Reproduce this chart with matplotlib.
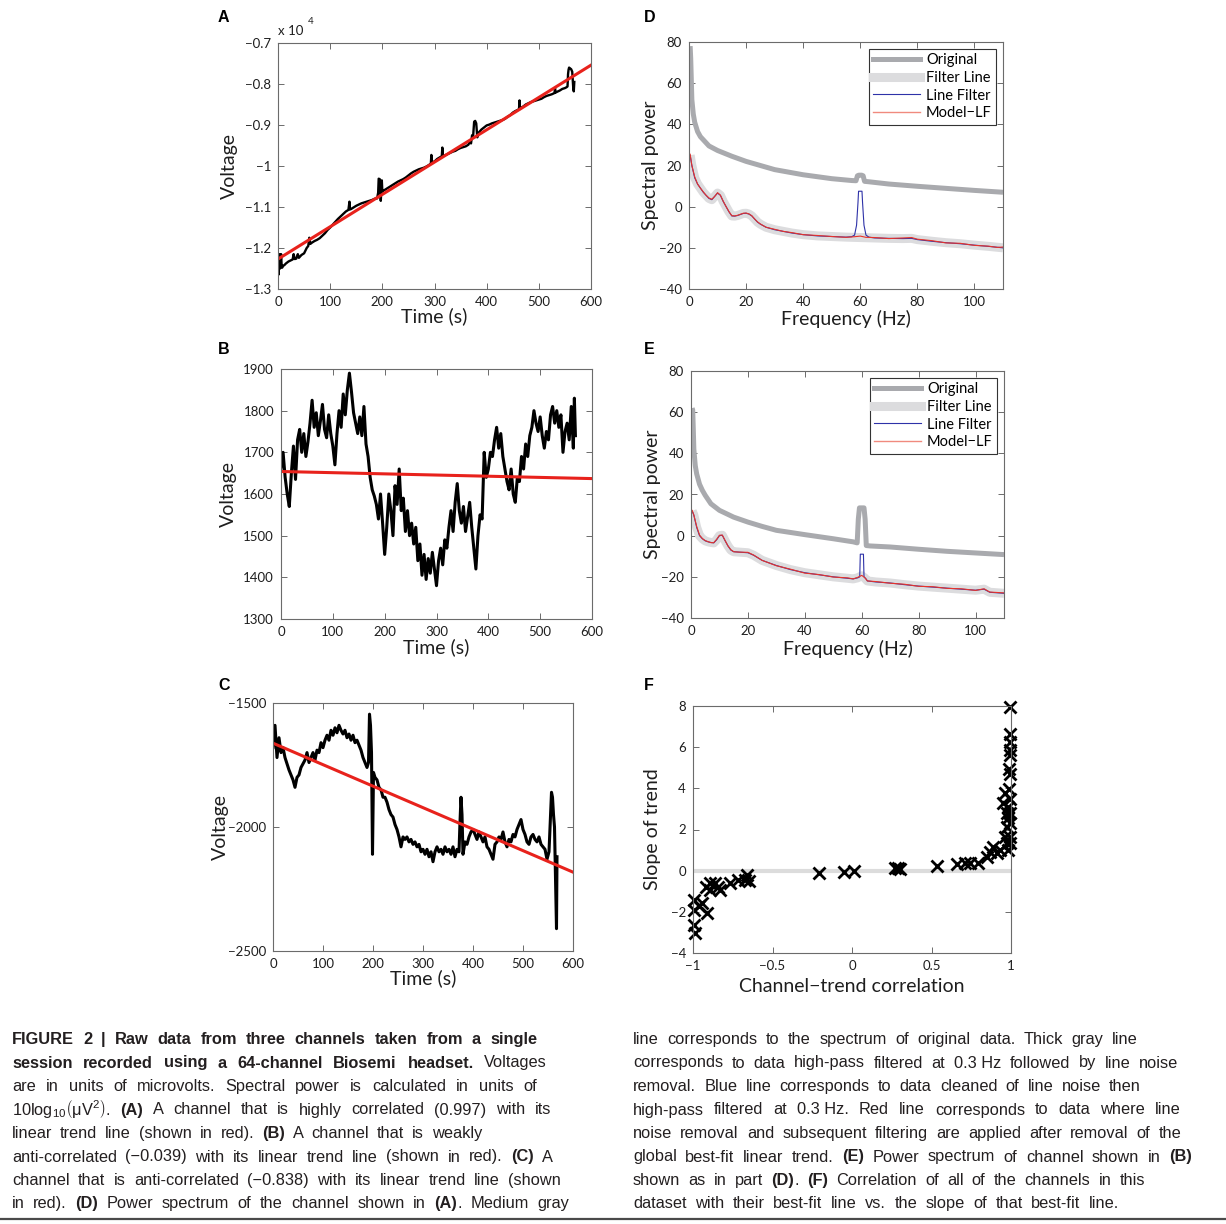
import matplotlib
matplotlib.use("Agg")
import matplotlib.pyplot as plt
from matplotlib.lines import Line2D

W, H = 1226, 1224
plt.rcParams['font.family'] = ['Lato', 'DejaVu Sans']
plt.rcParams['mathtext.fontset'] = 'custom'
plt.rcParams['mathtext.rm'] = 'Liberation Sans'
plt.rcParams['mathtext.it'] = 'Liberation Sans:italic'
plt.rcParams['mathtext.bf'] = 'Liberation Sans:bold'

# ---------------- data ----------------
# A: highly correlated channel (raw microvolts)
A_t = [0, 1, 2, 3, 4, 5, 6, 7, 8, 10, 12, 15, 18, 20, 25, 28, 30, 32, 35, 38, 40, 45, 50, 55, 58, 60, 62,
       65, 70, 75, 80, 85, 90, 95, 100, 105, 110, 115, 120, 125, 130, 135, 137, 138, 140, 145, 150, 155,
       160, 165, 170, 175, 180, 185, 190, 192, 193, 195, 197, 199, 200, 202, 205, 210, 215, 220, 225, 230,
       235, 240, 245, 250, 255, 260, 265, 270, 275, 280, 285, 290, 293, 294, 295, 297, 300, 305, 310, 314,
       315, 316, 320, 325, 330, 335, 340, 345, 350, 355, 360, 365, 368, 370, 372, 374, 376, 378, 380, 382,
       385, 390, 395, 400, 405, 410, 415, 420, 425, 430, 435, 440, 445, 450, 455, 460, 462, 463, 464, 465,
       470, 475, 480, 485, 490, 495, 500, 505, 510, 515, 520, 525, 530, 531, 532, 535, 540, 545, 550, 553,
       555, 556, 557, 558, 560, 562, 564, 566, 567, 568]
A_v = [-12550, -12650, -12450, -12150, -12500, -12400, -12150, -12450, -12480, -12430, -12420, -12380,
       -12350, -12330, -12300, -12280, -12150, -12270, -12260, -12150, -12240, -12170, -12130, -12000,
       -11950, -11750, -11900, -11870, -11830, -11800, -11760, -11700, -11640, -11560, -11500, -11430,
       -11360, -11290, -11230, -11170, -11110, -11070, -10870, -11060, -11050, -11010, -10970, -10940,
       -10910, -10890, -10870, -10850, -10830, -10800, -10790, -10650, -10310, -10320, -10850, -10350,
       -10620, -10600, -10580, -10540, -10500, -10460, -10420, -10380, -10350, -10320, -10280, -10230,
       -10180, -10140, -10110, -10080, -10060, -10040, -10010, -9970, -9940, -9730, -9930, -9900, -9890,
       -9830, -9790, -9760, -9550, -9760, -9740, -9710, -9680, -9650, -9630, -9590, -9560, -9540, -9520,
       -9480, -9400, -9450, -9250, -9280, -8920, -8900, -8960, -9300, -9180, -9110, -9060, -9010, -8990,
       -8960, -8940, -8920, -8900, -8880, -8850, -8800, -8760, -8700, -8660, -8630, -8610, -8400, -8610,
       -8590, -8550, -8500, -8470, -8440, -8420, -8400, -8380, -8360, -8320, -8290, -8270, -8250, -8220,
       -8100, -8210, -8190, -8160, -8120, -8100, -8080, -8060, -7760, -7650, -7600, -7620, -7640, -7700,
       -8100, -8180, -7950]
A_trend_t = [0, 600]
A_trend_v = [-12270, -7540]

# B: weakly anti-correlated channel
B_t = [0, 4, 8, 12, 16, 20, 24, 28, 32, 36, 40, 44, 48, 52, 56, 60, 64, 68, 72, 76, 80, 84, 88, 92, 96,
       100, 104, 108, 112, 116, 120, 124, 128, 132, 136, 140, 144, 148, 152, 156, 160, 164, 168, 172, 176,
       180, 184, 188, 192, 196, 200, 204, 208, 212, 216, 220, 224, 228, 232, 236, 240, 244, 248, 252, 256,
       260, 264, 268, 272, 276, 280, 284, 288, 292, 296, 300, 304, 308, 312, 316, 320, 324, 328, 332, 336,
       340, 344, 348, 352, 356, 360, 364, 368, 372, 376, 380, 384, 388, 392, 396, 400, 404, 408, 412, 416,
       420, 424, 428, 432, 436, 440, 444, 448, 452, 456, 460, 464, 468, 472, 476, 480, 484, 488, 492, 496,
       500, 504, 508, 512, 516, 520, 524, 528, 532, 536, 540, 544, 548, 552, 556, 560, 564, 566, 568]
B_v = [1660, 1700, 1640, 1600, 1570, 1650, 1715, 1635, 1730, 1755, 1700, 1745, 1690, 1725, 1770, 1825,
       1760, 1795, 1740, 1775, 1815, 1755, 1735, 1790, 1745, 1715, 1670, 1745, 1800, 1760, 1840, 1790,
       1850, 1890, 1845, 1795, 1770, 1745, 1785, 1740, 1810, 1720, 1690, 1640, 1610, 1595, 1575, 1540,
       1600, 1530, 1455, 1520, 1600, 1560, 1500, 1620, 1575, 1660, 1560, 1590, 1510, 1560, 1500, 1530,
       1480, 1520, 1440, 1480, 1405, 1455, 1395, 1445, 1410, 1460, 1420, 1380, 1440, 1470, 1430, 1490,
       1470, 1520, 1560, 1510, 1580, 1625, 1560, 1530, 1570, 1510, 1545, 1580, 1520, 1470, 1420, 1500,
       1550, 1540, 1700, 1640, 1660, 1700, 1690, 1730, 1760, 1710, 1745, 1690, 1660, 1630, 1610, 1660,
       1600, 1580, 1640, 1630, 1690, 1660, 1720, 1690, 1740, 1760, 1800, 1770, 1750, 1785, 1740, 1710,
       1750, 1730, 1790, 1810, 1770, 1800, 1760, 1790, 1700, 1750, 1770, 1730, 1810, 1710, 1830, 1740]
B_trend_t = [0, 600]
B_trend_v = [1654, 1637]

# C: anti-correlated channel
C_t = [0, 4, 8, 12, 16, 20, 24, 28, 32, 36, 40, 44, 48, 52, 56, 60, 64, 68, 72, 76, 80, 84, 88, 92, 96,
       100, 104, 108, 112, 116, 120, 124, 128, 132, 136, 140, 144, 148, 152, 156, 160, 164, 168, 172, 176,
       180, 184, 188, 191, 193, 195, 197, 199, 201, 204, 208, 212, 216, 220, 224, 228, 232, 236, 240, 244,
       248, 252, 256, 260, 264, 268, 272, 276, 280, 284, 288, 292, 296, 300, 304, 308, 312, 316, 320, 324,
       328, 332, 336, 340, 344, 348, 352, 356, 360, 364, 368, 372, 374, 376, 378, 380, 384, 388, 392, 396,
       400, 404, 408, 412, 416, 420, 424, 428, 432, 436, 440, 444, 448, 452, 456, 460, 464, 468, 472, 476,
       480, 484, 488, 492, 496, 500, 504, 508, 512, 516, 520, 524, 528, 532, 536, 540, 544, 548, 552, 555,
       557, 559, 561, 563, 565, 567, 568]
C_v = [-1680, -1590, -1720, -1640, -1700, -1680, -1720, -1745, -1770, -1790, -1810, -1840, -1800, -1790,
       -1760, -1745, -1730, -1700, -1740, -1720, -1700, -1730, -1690, -1700, -1660, -1680, -1650, -1630,
       -1650, -1610, -1630, -1600, -1620, -1590, -1610, -1625, -1610, -1640, -1625, -1650, -1630, -1660,
       -1650, -1670, -1690, -1720, -1740, -1760, -1740, -1545, -1590, -1700, -2110, -1780, -1800, -1810,
       -1840, -1850, -1880, -1880, -1900, -1930, -1950, -1960, -1990, -2010, -2040, -2080, -2040, -2050,
       -2040, -2060, -2050, -2070, -2060, -2080, -2070, -2100, -2090, -2110, -2090, -2120, -2100, -2140,
       -2100, -2080, -2100, -2090, -2110, -2080, -2100, -2090, -2110, -2080, -2120, -2090, -2100, -1980,
       -1880, -1950, -2110, -2060, -2070, -2040, -2020, -2010, -2030, -2050, -2020, -2040, -2060, -2040,
       -2080, -2090, -2110, -2130, -2070, -2060, -2040, -2050, -2020, -2060, -2080, -2050, -2060, -2030,
       -2040, -2010, -1990, -1970, -2010, -2030, -2060, -2070, -2040, -2030, -2050, -2060, -2040, -2070,
       -2080, -2090, -2130, -2100, -1950, -1860, -1880, -1950, -2000, -2200, -2410, -2120]
C_trend_t = [0, 600]
C_trend_v = [-1662, -2182]

# D: spectra of channel A
D_orig_f = [0.4, 0.6, 0.8, 1, 1.5, 2, 3, 4, 5, 7, 10, 15, 20, 25, 30, 40, 50, 57, 58.5, 59, 59.5, 60.5,
            61, 61.5, 63, 70, 80, 90, 100, 110]
D_orig_v = [78, 72, 62, 52, 45, 41, 36.5, 34, 32.5, 29.5, 27.3, 24.5, 22, 20, 18, 15.5, 13.6, 12.7,
            12.6, 15, 15.3, 15.3, 15, 12.3, 12.1, 11, 9.9, 8.9, 7.9, 7]
D_filt_f = [0.4, 1, 2, 3, 4, 5, 6, 7, 8, 9, 10, 11, 12, 13, 14, 15, 16, 17, 18, 19, 20, 21, 22, 23, 24,
            25, 27, 30, 33, 36, 40, 45, 50, 55, 60, 65, 70, 75, 78, 80, 85, 90, 95, 100, 105, 110]
D_filt_v = [25, 20, 14, 11, 9, 7, 5.5, 4, 3.4, 5, 6.6, 5.5, 2.5, 0, -2.5, -4.5, -4.6, -4.3, -3.8, -3.3,
            -3.2, -3.6, -4.5, -6, -7.5, -8.5, -10, -11.2, -12, -12.8, -13.6, -14.2, -14.5, -14.8, -15,
            -15.2, -15.4, -15.5, -15.4, -16, -16.8, -17.5, -18, -18.7, -19.3, -20]
D_model_f = [0.4, 1, 2, 3, 4, 5, 6, 7, 8, 9, 10, 11, 12, 13, 14, 15, 16, 17, 18, 19, 20, 21, 22, 23, 24,
             25, 27, 30, 33, 36, 40, 45, 50, 55, 58, 60, 62, 65, 70, 75, 78, 80, 85, 90, 95, 100, 105, 108, 110]
D_model_v = [25.5, 20, 14.5, 11, 9, 7.2, 5.5, 4.2, 3.6, 5, 6.8, 5.6, 2.6, 0, -2.4, -4.4, -4.5, -4.2,
             -3.7, -3.2, -3.1, -3.5, -4.4, -6, -7.4, -8.4, -10, -11, -12, -12.6, -13.6, -14, -14.5,
             -14.9, -14.6, -14.3, -14.9, -15, -15.5, -15.2, -15, -15.8, -16.5, -17.6, -17.8, -18.8,
             -19.2, -19.8, -19.6]
D_peak_f = [57, 58, 58.7, 59.2, 59.4, 60.6, 60.8, 61.3, 62, 63]
D_peak_v = [-14.6, -13.8, -9, 2, 7.5, 7.5, 2, -9, -13.8, -14.8]

# E: spectra of channel B
E_orig_f = [0.4, 0.6, 0.8, 1, 1.5, 2, 3, 4, 5, 7, 10, 15, 20, 25, 30, 40, 50, 57, 58.4, 58.8, 59.2,
            60.8, 61.2, 61.6, 63, 70, 80, 90, 100, 110]
E_orig_v = [62, 61, 52, 42, 34, 30, 25, 22, 19.6, 15.5, 12.3, 9, 6.6, 4.5, 2.6, 0.5, -1.5, -3, -3.5, 8,
            13.5, 13.5, 8, -4.8, -5, -5.5, -6.6, -7.6, -8.4, -9.2]
E_filt_f = [0.4, 1, 2, 3, 4, 5, 6, 7, 8, 9, 10, 11, 12, 13, 14, 15, 17, 20, 22, 25, 30, 35, 40, 45, 50,
            55, 57, 58.5, 60, 61, 62, 65, 70, 75, 80, 85, 90, 95, 100, 103, 105, 110]
E_filt_v = [12, 10, 4, 0, -1.5, -2.5, -3, -3.3, -3.5, -2, 0, 0.2, -2.5, -5, -7, -7.8, -8, -8.3, -9.5,
            -12, -14.5, -16.5, -18, -19, -20, -20.7, -21, -20.5, -19.5, -20.5, -22, -22.5, -23, -23.8,
            -24.5, -25, -25.5, -26, -26.5, -26, -27.5, -28]
E_model_f = [0.4, 1, 2, 3, 4, 5, 6, 7, 8, 9, 10, 11, 12, 13, 14, 15, 17, 20, 22, 25, 30, 35, 40, 45,
             50, 55, 57, 58.5, 60, 61, 62, 65, 70, 75, 80, 85, 90, 95, 100, 103, 105, 110]
E_model_v = [12.3, 10, 4.5, 0.3, -1.4, -2.4, -2.9, -3.4, -3.4, -1.8, 0.2, 0.3, -2.4, -5, -6.8, -7.8,
             -8, -8.1, -9.4, -12, -14.6, -16.3, -18.2, -18.9, -20.1, -20.5, -21, -20.3, -19.3, -20.3,
             -22, -22.3, -23.1, -23.6, -24.6, -24.8, -25.6, -25.8, -26.6, -25.8, -27.4, -27.8]
E_peak_f = [58.6, 59.3, 59.5, 60.6, 60.8, 61.4]
E_peak_v = [-20.5, -20, -9, -9, -20, -20.8]

# F: correlation vs slope, all channels
F_corr = [-0.985, -0.996, -0.996, -0.996, -0.964, -0.943, -0.912, -0.92, -0.89, -0.89, -0.86, -0.84,
          -0.83, -0.765, -0.72, -0.67, -0.66, -0.65, -0.206, -0.053, 0.01, 0.271, 0.292, 0.30, 0.533,
          0.66, 0.711, 0.742, 0.795, 0.847, 0.868, 0.889, 0.91, 0.93, 0.95, 0.96, 0.973, 0.983, 0.994,
          0.994, 0.983, 0.973, 0.962, 0.994, 0.994, 0.994, 0.994, 0.994, 0.99, 0.994, 0.99, 0.994,
          0.983, 0.994, 0.994, 0.973]
F_slope = [-3.03, -2.63, -1.9, -1.42, -1.74, -1.58, -2.06, -0.77, -0.6, -0.93, -0.6, -0.77, -0.93,
           -0.6, -0.44, -0.44, -0.19, -0.52, -0.11, -0.06, -0.03, 0.12, 0.12, 0.08, 0.21, 0.33, 0.36,
           0.39, 0.39, 0.68, 0.92, 1.17, 0.84, 1.0, 3.27, 3.75, 2.14, 2.54, 1.65, 1.33, 1.0, 1.33, 1.65,
           7.95, 6.66, 6.26, 5.85, 5.6, 4.96, 4.72, 3.99, 3.5, 3.1, 2.78, 2.3, 2.78]

time_ticks = [0, 100, 200, 300, 400, 500, 600]
time_ticklabels = ['0', '100', '200', '300', '400', '500', '600']
A_yticks = [-1.3, -1.2, -1.1, -1.0, -0.9, -0.8, -0.7]
A_yticklabels = ['\u22121.3', '\u22121.2', '\u22121.1', '\u22121', '\u22120.9', '\u22120.8', '\u22120.7']
B_yticks = [1300, 1400, 1500, 1600, 1700, 1800, 1900]
C_yticks = [-2500, -2000, -1500]
C_yticklabels = ['\u22122500', '\u22122000', '\u22121500']
freq_ticks = [0, 20, 40, 60, 80, 100]
spec_yticks = [-40, -20, 0, 20, 40, 60, 80]
spec_yticklabels = ['\u221240', '\u221220', '0', '20', '40', '60', '80']
F_xticks = [-1, -0.5, 0, 0.5, 1]
F_xticklabels = ['\u22121', '\u22120.5', '0', '0.5', '1']
F_yticks = [-4, -2, 0, 2, 4, 6, 8]
F_yticklabels = ['\u22124', '\u22122', '0', '2', '4', '6', '8']

legend_labels = ['Original', 'Filter Line', 'Line Filter', 'Model\u2212LF']

caption_left = [
    ("**FIGURE 2 | Raw data from three channels taken from a single**", 537),
    ("**session recorded using a 64-channel Biosemi headset.** Voltages", 547),
    ("are in units of microvolts. Spectral power is calculated in units of", 537),
    ("$\\mathregular{10log}_{10}\\left(\\mathregular{\\mu}\\mathregular{V}^{2}\\right)$. **(A)** A channel that is highly correlated (0.997) with its", 551),
    ("linear trend line (shown in red). **(B)** A channel that is weakly", 482),
    ("anti-correlated (\u22120.039) with its linear trend line (shown in red). **(C)** A", 553),
    ("channel that is anti-correlated (\u22120.838) with its linear trend line (shown", 561),
    ("in red). **(D)** Power spectrum of the channel shown in **(A)**. Medium gray", 569),
]
caption_right = [
    ("line corresponds to the spectrum of original data. Thick gray line", 1138),
    ("corresponds to data high-pass filtered at 0.3\u00a0Hz followed by line noise", 1178),
    ("removal. Blue line corresponds to data cleaned of line noise then", 1141),
    ("high-pass filtered at 0.3\u00a0Hz. Red line corresponds to data where line", 1181),
    ("noise removal and subsequent filtering are applied after removal of the", 1181),
    ("global best-fit linear trend. **(E)** Power spectrum of channel shown in **(B)**", 1192),
    ("shown as in part **(D)**. **(F)** Correlation of all of the channels in this", 1145),
    ("dataset with their best-fit line vs. the slope of that best-fit line.", 1119),
]

# ---------------- styling ----------------
TRACE = 'black'
TREND = '#e8221c'
ORIG = '#a9aaae'
FILT = '#dcdcde'
BLUE = '#2e32a8'
RED = '#e8332a'
SPINE = '#6b6b6b'
TXT = '#1e1e1e'

fig = plt.figure(figsize=(W / 100, H / 100), dpi=100)


def make_ax(l, r, t, b):
    ax = fig.add_axes([l / W, 1 - b / H, (r - l) / W, (b - t) / H])
    ax.tick_params(direction='in', top=True, right=True, length=4, width=0.7,
                   color=SPINE, labelcolor=TXT, labelsize=9.5, pad=5)
    for s in ax.spines.values():
        s.set_color(SPINE)
        s.set_linewidth(0.8)
    return ax


def panel_letter(x, y, s):
    fig.text(x / W, 1 - y / H, s, family='Liberation Sans', weight='bold', fontsize=11.5,
             ha='center', va='center', color='black')


# A
axA = make_ax(278, 591, 43, 289)
axA.plot(A_t, [v / 1e4 for v in A_v], color=TRACE, lw=1.7)
axA.plot(A_trend_t, [v / 1e4 for v in A_trend_v], color=TREND, lw=2.2)
axA.set_xlim(0, 600)
axA.set_ylim(-1.3, -0.7)
axA.set_xticks(time_ticks, time_ticklabels)
axA.set_yticks(A_yticks, A_yticklabels)
axA.text(0.0, 1.025, 'x 10', transform=axA.transAxes, fontsize=9.5, color=TXT, ha='left', va='bottom')
axA.text(0.095, 1.07, '4', transform=axA.transAxes, fontsize=7, color=TXT, ha='left', va='bottom')

# B
axB = make_ax(281, 592, 369, 619)
axB.plot(B_t, B_v, color=TRACE, lw=2.2)
axB.plot(B_trend_t, B_trend_v, color=TREND, lw=2.2)
axB.set_xlim(0, 600)
axB.set_ylim(1300, 1900)
axB.set_xticks(time_ticks, time_ticklabels)
axB.set_yticks(B_yticks, [str(v) for v in B_yticks])

# C
axC = make_ax(273, 573, 703, 951)
axC.plot(C_t, C_v, color=TRACE, lw=2.2)
axC.plot(C_trend_t, C_trend_v, color=TREND, lw=2.2)
axC.set_xlim(0, 600)
axC.set_ylim(-2500, -1500)
axC.set_xticks(time_ticks, time_ticklabels)
axC.set_yticks(C_yticks, C_yticklabels)

for ax, lx in [(axA, -0.128), (axB, -0.141), (axC, -0.147)]:
    ax.set_ylabel('Voltage', fontsize=14, color=TXT)
    ax.yaxis.set_label_coords(lx, 0.5)
    ax.set_xlabel('Time (s)', fontsize=14, color=TXT)
    ax.xaxis.set_label_coords(0.5, -0.075)


# D and E
def spectrum(ax, of, ov, ff, fv, mf, mv, pf, pv):
    ax.plot(of, ov, color=ORIG, lw=3.6, solid_capstyle='butt')
    ax.plot(ff, fv, color=FILT, lw=6.5, solid_capstyle='butt')
    # blue line = filtered curve with the 60 Hz peak kept
    bf = [f for f in ff if f < pf[0]] + pf + [f for f in ff if f > pf[-1]]
    bv = [v for f, v in zip(ff, fv) if f < pf[0]] + pv + [v for f, v in zip(ff, fv) if f > pf[-1]]
    ax.plot(bf, bv, color=BLUE, lw=0.8)
    ax.plot(mf, mv, color=RED, lw=0.8)
    ax.set_xlim(0, 110)
    ax.set_ylim(-40, 80)
    ax.set_xticks(freq_ticks, [str(v) for v in freq_ticks])
    ax.set_yticks(spec_yticks, spec_yticklabels)
    ax.set_ylabel('Spectral power', fontsize=14, color=TXT)
    ax.yaxis.set_label_coords(-0.096, 0.5)
    ax.set_xlabel('Frequency (Hz)', fontsize=14, color=TXT)
    handles = [Line2D([], [], color=ORIG, lw=3.6), Line2D([], [], color=FILT, lw=6.5),
               Line2D([], [], color=BLUE, lw=0.8), Line2D([], [], color='#f08a7e', lw=1.0)]
    leg = ax.legend(handles, legend_labels, loc='upper right', bbox_to_anchor=(0.978, 0.972),
                    fontsize=10.5, frameon=True, fancybox=False, framealpha=1, borderpad=0.3,
                    labelspacing=0.25, handlelength=3.2, handletextpad=0.4, borderaxespad=0)
    leg.get_frame().set_edgecolor('#333333')
    leg.get_frame().set_linewidth(0.8)


axD = make_ax(689, 1003, 42, 289)
spectrum(axD, D_orig_f, D_orig_v, D_filt_f, D_filt_v, D_model_f, D_model_v, D_peak_f, D_peak_v)
axD.xaxis.set_label_coords(0.5, -0.085)

axE = make_ax(691, 1004, 371, 618)
spectrum(axE, E_orig_f, E_orig_v, E_filt_f, E_filt_v, E_model_f, E_model_v, E_peak_f, E_peak_v)
axE.xaxis.set_label_coords(0.5, -0.089)

# F
axF = make_ax(693, 1011, 706, 953)
axF.plot([-1, 1], [0, 0], color='#dcdcdc', lw=3)
axF.plot(F_corr, F_slope, 'x', color='black', ms=9, mew=2.0, clip_on=False)
axF.set_xlim(-1, 1)
axF.set_ylim(-4, 8)
axF.set_xticks(F_xticks, F_xticklabels)
axF.set_yticks(F_yticks, F_yticklabels)
axF.set_ylabel('Slope of trend', fontsize=14, color=TXT)
axF.yaxis.set_label_coords(-0.101, 0.5)
axF.set_xlabel('Channel\u2212trend correlation', fontsize=14, color=TXT)
axF.xaxis.set_label_coords(0.5, -0.10)

panel_letter(223, 17, 'A')
panel_letter(650, 17, 'D')
panel_letter(224, 350, 'B')
panel_letter(649, 350, 'E')
panel_letter(224, 685, 'C')
panel_letter(649, 685, 'F')

# ---------------- caption ----------------
CAP_FS = 11.8
renderer = fig.canvas.get_renderer()


def caption_line(line, x0, x_end, y):
    bold = False
    rows = []
    for tok in line.split(' '):
        parts = tok.split('**')
        row = []
        for i, p in enumerate(parts):
            if i > 0:
                bold = not bold
            if p:
                row.append(fig.text(0, 0, p, family='Liberation Sans', fontsize=CAP_FS,
                                    weight='bold' if bold else 'normal', color='#231f20',
                                    ha='left', va='baseline'))
        rows.append(row)
    widths = [[t.get_window_extent(renderer).width for t in row] for row in rows]
    total = sum(sum(w) for w in widths)
    gap = max((x_end - x0 - total) / max(len(rows) - 1, 1), 3)
    x = x0
    for row, ws in zip(rows, widths):
        for t, w in zip(row, ws):
            t.set_position((x / W, 1 - y / H))
            x += w
        x += gap


baselines = [1044, 1067.5, 1091, 1114.5, 1138, 1161.5, 1185, 1208]
for (line, end), yb in zip(caption_left, baselines):
    caption_line(line, 12, end, yb)
for (line, end), yb in zip(caption_right, baselines):
    caption_line(line, 633, end, yb)

fig.add_artist(Line2D([0, 1], [1 - 1219 / H, 1 - 1219 / H], transform=fig.transFigure,
                      color='#4a4a4a', lw=1.6))

fig.savefig('out.png', dpi=100)
